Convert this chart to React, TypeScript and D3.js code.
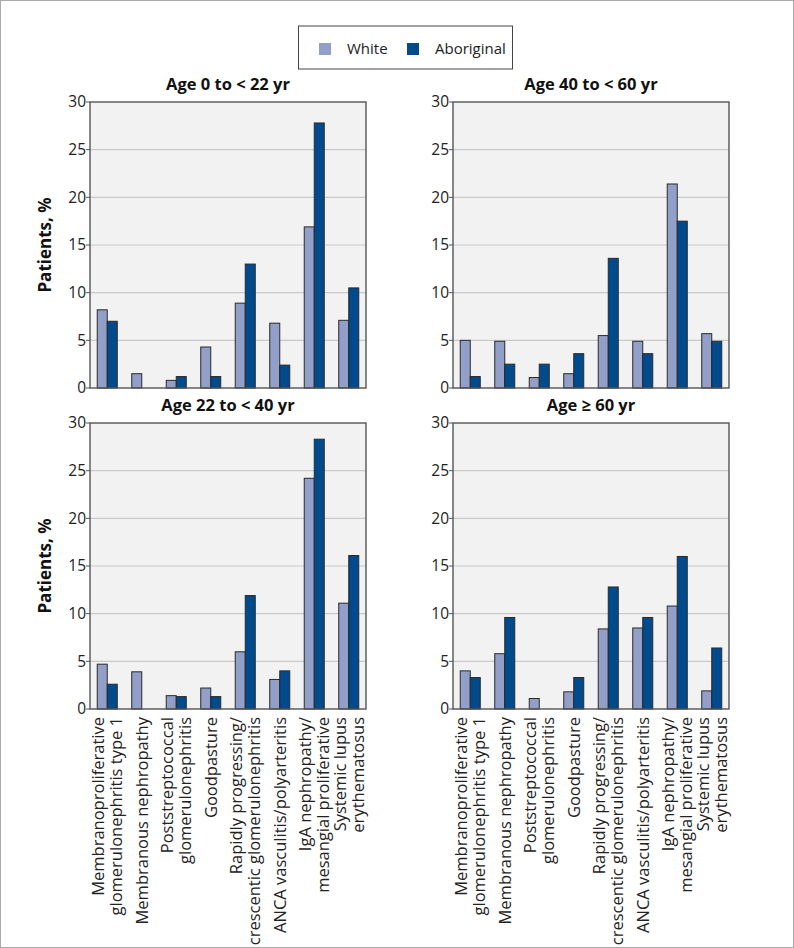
import React from "react";
import * as d3 from "d3";

const categories: string[][] = [
  ["Membranoproliferative", "glomerulonephritis type 1"],
  ["Membranous nephropathy"],
  ["Poststreptococcal", "glomerulonephritis"],
  ["Goodpasture"],
  ["Rapidly progressing/", "crescentic glomerulonephritis"],
  ["ANCA vasculitis/polyarteritis"],
  ["IgA nephropathy/", "mesangial proliferative"],
  ["Systemic lupus", "erythematosus"],
];
const seriesNames = ["White", "Aboriginal"];
const yTicks = [0, 5, 10, 15, 20, 25, 30];

const age0to22White = [8.2, 1.5, 0.8, 4.3, 8.9, 6.8, 16.9, 7.1];
const age0to22Aboriginal = [7.0, 0, 1.2, 1.2, 13.0, 2.4, 27.8, 10.5];
const age40to60White = [5.0, 4.9, 1.1, 1.5, 5.5, 4.9, 21.4, 5.7];
const age40to60Aboriginal = [1.2, 2.5, 2.5, 3.6, 13.6, 3.6, 17.5, 4.9];
const age22to40White = [4.7, 3.9, 1.4, 2.2, 6.0, 3.1, 24.2, 11.1];
const age22to40Aboriginal = [2.6, 0, 1.3, 1.3, 11.9, 4.0, 28.3, 16.1];
const age60White = [4.0, 5.8, 1.1, 1.8, 8.4, 8.5, 10.8, 1.9];
const age60Aboriginal = [3.3, 9.6, 0, 3.3, 12.8, 9.6, 16.0, 6.4];

const panelTitles = ["Age 0 to < 22 yr", "Age 40 to < 60 yr", "Age 22 to < 40 yr", "Age \u2265 60 yr"];
const panelData = [
  [age0to22White, age0to22Aboriginal],
  [age40to60White, age40to60Aboriginal],
  [age22to40White, age22to40Aboriginal],
  [age60White, age60Aboriginal],
];

const W = 794;
const H = 948;
const FONT = "'Open Sans', 'Noto Sans', sans-serif";
const COLORS = ["#919fc9", "#014a8c"];

const plotLefts = [90, 453, 90, 453];
const plotTops = [102, 102, 423, 423];
const plotW = 276;
const plotH = 286;

function Panel({ idx }: { idx: number }) {
  const left = plotLefts[idx];
  const top = plotTops[idx];
  const data = panelData[idx];
  const keys = categories.map((c) => c.join(" "));
  const x0 = d3.scaleBand<string>().domain(keys).range([0, plotW]).paddingInner(0.42).paddingOuter(0.21);
  const x1 = d3.scaleBand<string>().domain(seriesNames).range([0, x0.bandwidth()]);
  const y = d3.scaleLinear().domain([0, 30]).range([plotH, 0]);
  const showYLabel = idx % 2 === 0;
  const showXLabels = idx >= 2;
  return (
    <g transform={`translate(${left},${top})`}>
      <text x={plotW / 2} y={-12} textAnchor="middle" fontFamily={FONT} fontWeight="bold" fontSize={16.5} fill="#111">
        {panelTitles[idx]}
      </text>
      <rect x={0} y={0} width={plotW} height={plotH} fill="#f2f2f2" />
      {yTicks.filter((t) => t > 0 && t < 30).map((t) => (
        <line key={t} x1={0} x2={plotW} y1={y(t)} y2={y(t)} stroke="#c9c9c9" strokeWidth={1.2} />
      ))}
      {keys.map((k, i) =>
        seriesNames.map((s, j) => {
          const v = data[j][i];
          if (v <= 0) return null;
          return (
            <rect
              key={k + s}
              x={(x0(k) as number) + (x1(s) as number)}
              y={y(v)}
              width={x1.bandwidth()}
              height={y(0) - y(v)}
              fill={COLORS[j]}
              stroke="#2a2a2a"
              strokeWidth={1}
            />
          );
        })
      )}
      <rect x={0} y={0} width={plotW} height={plotH} fill="none" stroke="#555" strokeWidth={1.4} />
      {yTicks.map((t) => (
        <g key={t} transform={`translate(0,${y(t)})`}>
          <line x1={-4} x2={0} stroke="#555" strokeWidth={1} />
          <text x={-4} dy="0.35em" textAnchor="end" fontFamily={FONT} fontSize={15.5} fill="#222">
            {t}
          </text>
        </g>
      ))}
      {showYLabel && (
        <text
          transform={`translate(-45,${plotH / 2}) rotate(-90)`}
          textAnchor="middle"
          dy="0.35em"
          fontFamily={FONT}
          fontWeight="bold"
          fontSize={17}
          fill="#111"
        >
          Patients, %
        </text>
      )}
      {showXLabels &&
        categories.map((lines, i) => {
          const cx = (x0(keys[i]) as number) + x0.bandwidth() / 2;
          return lines.map((ln, li) => {
            const off = (li - (lines.length - 1) / 2) * 18;
            return (
              <text
                key={ln}
                transform={`translate(${cx + off},${plotH + 8}) rotate(-90)`}
                textAnchor="end"
                dy="0.35em"
                fontFamily={FONT}
                fontSize={16.5}
                fill="#222"
              >
                {ln}
              </text>
            );
          });
        })}
    </g>
  );
}

export default function App() {
  return (
    <div style={{ position: "absolute", left: 0, top: 0 }}>
      <svg width={W} height={H} viewBox={`0 0 ${W} ${H}`} style={{ display: "block", background: "#fff" }}>
        <rect x={0.5} y={0.5} width={W - 1} height={H - 1} fill="#fff" stroke="#aaa" strokeWidth={1} />
        <g>
          <rect x={298.5} y={26} width={214} height={43} fill="#fff" stroke="#444" strokeWidth={1} />
          {seriesNames.map((s, i) => {
            const lx = i === 0 ? 319 : 407;
            return (
              <g key={s}>
                <rect x={lx} y={43} width={12} height={12} fill={COLORS[i]} />
                <text x={lx + 28} y={49} dy="0.35em" fontFamily={FONT} fontSize={15} fill="#222">
                  {s}
                </text>
              </g>
            );
          })}
        </g>
        {[0, 1, 2, 3].map((i) => (
          <Panel key={i} idx={i} />
        ))}
      </svg>
    </div>
  );
}
